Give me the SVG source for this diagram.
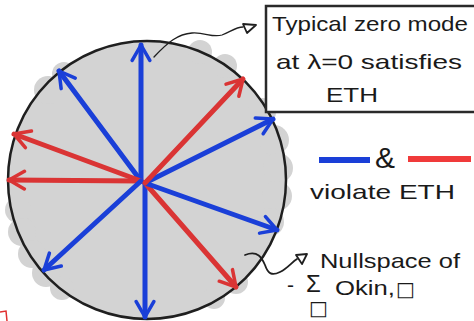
<svg xmlns="http://www.w3.org/2000/svg" width="474" height="321" viewBox="0 0 474 321">
<defs>
<style>
.blob{fill:#d3d3d3}
.ink{fill:none;stroke:#1f1f1f;stroke-linecap:round;stroke-linejoin:round}
.blue{stroke:#1a3fd8;stroke-width:5;stroke-linecap:round;fill:none}
.red{stroke:#da3434;stroke-width:5;stroke-linecap:round;fill:none}
.hand{font-family:"Liberation Sans",Arial,sans-serif;fill:#1a1a1a;font-size:21px}
.sq{font-family:"DejaVu Sans",sans-serif;fill:#1a1a1a;font-size:20px}
</style>
<marker id="hb" viewBox="0 0 20 20" refX="17" refY="10" markerWidth="22" markerHeight="22" markerUnits="userSpaceOnUse" orient="auto">
<path d="M3,2 L17,10 L3,18" fill="none" stroke="#1a3fd8" stroke-width="3.2" stroke-linecap="round" stroke-linejoin="round"/>
</marker>
<marker id="hr" viewBox="0 0 20 20" refX="17" refY="10" markerWidth="22" markerHeight="22" markerUnits="userSpaceOnUse" orient="auto">
<path d="M3,2 L17,10 L3,18" fill="none" stroke="#da3434" stroke-width="3.2" stroke-linecap="round" stroke-linejoin="round"/>
</marker>
</defs>
<rect width="474" height="321" fill="#ffffff"/>

<g id="shading">
<circle class="blob" cx="147" cy="180" r="139"/>
<circle class="blob" cx="48" cy="90" r="14"/>
<circle class="blob" cx="64" cy="74" r="12"/>
<circle class="blob" cx="200" cy="52" r="12"/>
<circle class="blob" cx="225" cy="66" r="12"/>
<circle class="blob" cx="262" cy="112" r="14"/>
<circle class="blob" cx="274" cy="140" r="15"/>
<circle class="blob" cx="278" cy="168" r="15"/>
<circle class="blob" cx="277" cy="196" r="15"/>
<circle class="blob" cx="270" cy="222" r="14"/>
<circle class="blob" cx="18" cy="210" r="13"/>
<circle class="blob" cx="22" cy="232" r="14"/>
<circle class="blob" cx="32" cy="254" r="14"/>
<circle class="blob" cx="46" cy="273" r="14"/>
<circle class="blob" cx="62" cy="288" r="12"/>
<circle class="blob" cx="236" cy="282" r="12"/>
<circle class="blob" cx="214" cy="298" r="11"/>
</g>

<g id="circle">
<circle cx="147" cy="180" r="139" fill="none" stroke="#1f1f1f" stroke-width="2.5"/>
</g>

<g id="vectors">
<line class="blue" x1="141" y1="181" x2="141" y2="45" marker-end="url(#hb)"/>
<line class="blue" x1="141" y1="181" x2="59" y2="71" marker-end="url(#hb)"/>
<line class="red" x1="141" y1="181" x2="14" y2="134" marker-end="url(#hr)"/>
<line class="red" x1="141" y1="181" x2="9" y2="180" marker-end="url(#hr)"/>
<line class="blue" x1="141" y1="181" x2="44" y2="270" marker-end="url(#hb)"/>
<line class="blue" x1="145" y1="183" x2="145" y2="317" marker-end="url(#hb)"/>
<line class="red" x1="145" y1="183" x2="236" y2="287" marker-end="url(#hr)"/>
<line class="blue" x1="145" y1="183" x2="277" y2="230" marker-end="url(#hb)"/>
<line class="blue" x1="145" y1="183" x2="273" y2="119" marker-end="url(#hb)"/>
<line class="red" x1="145" y1="183" x2="243" y2="79" marker-end="url(#hr)"/>
</g>

<g id="connectors">
<path class="ink" stroke-width="1.3" d="M154,57 C168,42 178,34 192,33 C205,32 212,38 222,35 C230,32 236,27 243,27"/>
<path class="ink" stroke-width="1.8" d="M243,24 L256,25 L247,33 Z"/>
<path class="ink" stroke-width="1.8" d="M245,255 C258,250 262,258 265,265 C268,274 272,276 280,272 C288,268 292,262 297,259"/>
<path class="ink" stroke-width="1.8" d="M296,255 L307,254 L302,264 Z"/>
</g>

<g id="box">
<rect x="266" y="6" width="220" height="106" fill="#ffffff" stroke="#2a2a2a" stroke-width="2.5"/>
<text class="hand" x="272" y="31" textLength="196" lengthAdjust="spacingAndGlyphs">Typical zero mode</text>
<text class="hand" x="276" y="69" textLength="186" lengthAdjust="spacingAndGlyphs">at λ=0 satisfies</text>
<text class="hand" x="326" y="102" textLength="52" lengthAdjust="spacingAndGlyphs">ETH</text>
</g>

<g id="legend">
<line x1="319" y1="160" x2="370" y2="160" stroke="#1a3fd8" stroke-width="6"/>
<text class="hand" x="375" y="168" style="font-size:30px">&amp;</text>
<line x1="408" y1="159" x2="471" y2="159" stroke="#f03a3a" stroke-width="6"/>
<text class="hand" x="310" y="199" textLength="145" lengthAdjust="spacingAndGlyphs">violate ETH</text>
</g>

<g id="nullspace">
<text class="hand" x="320" y="268" textLength="140" lengthAdjust="spacingAndGlyphs">Nullspace of</text>
<text class="hand" x="287" y="292">-</text>
<text class="hand" x="306" y="292" style="font-size:24px">Σ</text>
<text class="sq" x="309" y="315">□</text>
<text class="hand" x="335" y="295" textLength="60" lengthAdjust="spacingAndGlyphs">Okin,</text>
<text class="sq" x="396" y="296">□</text>
</g>

<g id="edge-mark">
<path d="M0,312 L6,311 L7,321" fill="none" stroke="#e03030" stroke-width="1.5"/>
</g>
</svg>
